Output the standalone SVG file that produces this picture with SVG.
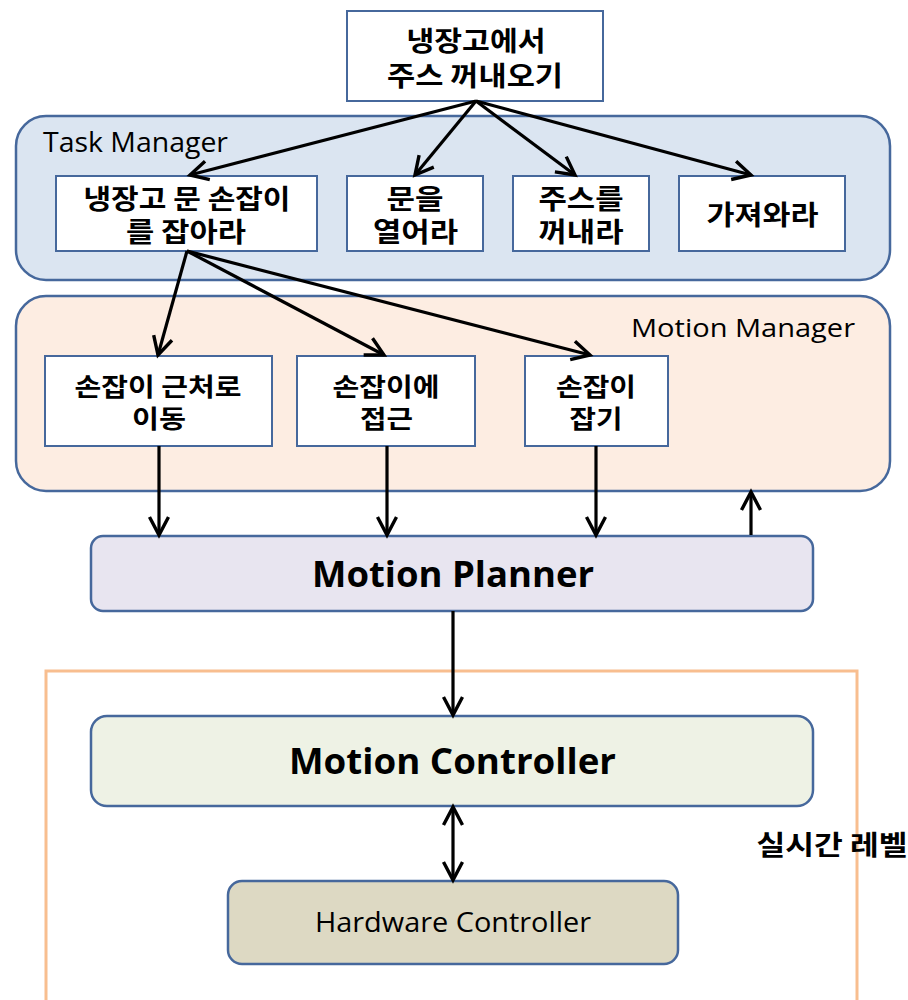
<svg xmlns="http://www.w3.org/2000/svg" width="908" height="1000" viewBox="0 0 908 1000">
  <style>
    .box { fill: #ffffff; stroke: #46689c; stroke-width: 2; }
    .panel { stroke: #46689c; stroke-width: 2.5; }
    .ko { font-family: "Noto Sans CJK KR", "Malgun Gothic", sans-serif; font-weight: bold; font-size: 27px; fill: #000; text-anchor: middle; }
    .ko.sm { font-size: 25px; }
    .en { font-family: "Open Sans", "Liberation Sans", sans-serif; fill: #000; }
    .link { stroke: #000; stroke-width: 3.2; fill: none; marker-end: url(#arrow); }
  </style>
  <defs>
    <marker id="arrow" viewBox="-22 -12 26 24" refX="0" refY="0" markerWidth="26" markerHeight="24" markerUnits="userSpaceOnUse" orient="auto-start-reverse">
      <path d="M-18,-9.5 L0,0 L-18,9.5" fill="none" stroke="#000" stroke-width="3.4" stroke-linejoin="miter"/>
    </marker>
  </defs>

  <rect width="908" height="1000" fill="#ffffff"/>

  <!-- layer containers -->
  <g id="task-manager">
    <rect class="panel" x="16" y="116" width="874" height="164" rx="30" fill="#dbe5f1"/>
    <text class="en" x="43" y="151.5" font-size="26.5" textLength="185" lengthAdjust="spacingAndGlyphs">Task Manager</text>
  </g>
  <g id="motion-manager">
    <rect class="panel" x="16" y="296" width="874" height="195" rx="30" fill="#fdede2"/>
    <text class="en" x="631" y="336.5" font-size="26" textLength="224" lengthAdjust="spacingAndGlyphs">Motion Manager</text>
  </g>
  <g id="realtime-level">
    <rect x="46" y="671" width="811" height="340" fill="none" stroke="#f8be8f" stroke-width="3"/>
    <text class="ko" x="832" y="855" font-size="25" textLength="151" lengthAdjust="spacingAndGlyphs">실시간 레벨</text>
  </g>

  <!-- top goal -->
  <g id="goal">
    <rect class="box" x="347" y="11" width="256" height="90"/>
    <text class="ko" x="476" y="51" textLength="139" lengthAdjust="spacingAndGlyphs">냉장고에서</text>
    <text class="ko" x="475" y="86" textLength="176" lengthAdjust="spacingAndGlyphs">주스 꺼내오기</text>
  </g>

  <!-- tasks -->
  <g id="task-grab-handle">
    <rect class="box" x="56" y="176" width="261" height="75"/>
    <text class="ko" x="187" y="208.5" textLength="207" lengthAdjust="spacingAndGlyphs">냉장고 문 손잡이</text>
    <text class="ko" x="186" y="242" textLength="120" lengthAdjust="spacingAndGlyphs">를 잡아라</text>
  </g>
  <g id="task-open-door">
    <rect class="box" x="347" y="176" width="136" height="75"/>
    <text class="ko" x="415" y="208.5" textLength="57" lengthAdjust="spacingAndGlyphs">문을</text>
    <text class="ko" x="415.5" y="242" textLength="85" lengthAdjust="spacingAndGlyphs">열어라</text>
  </g>
  <g id="task-take-juice">
    <rect class="box" x="513" y="176" width="136" height="75"/>
    <text class="ko" x="581" y="208.5" textLength="85" lengthAdjust="spacingAndGlyphs">주스를</text>
    <text class="ko" x="581" y="242" textLength="85" lengthAdjust="spacingAndGlyphs">꺼내라</text>
  </g>
  <g id="task-bring">
    <rect class="box" x="679" y="176" width="166" height="75"/>
    <text class="ko" x="762.5" y="224.5" textLength="112" lengthAdjust="spacingAndGlyphs">가져와라</text>
  </g>

  <!-- motions -->
  <g id="motion-approach-near">
    <rect class="box" x="45" y="356" width="227" height="90"/>
    <text class="ko sm" x="158" y="396" textLength="167" lengthAdjust="spacingAndGlyphs">손잡이 근처로</text>
    <text class="ko sm" x="159" y="428" textLength="54" lengthAdjust="spacingAndGlyphs">이동</text>
  </g>
  <g id="motion-approach">
    <rect class="box" x="297" y="356" width="178" height="90"/>
    <text class="ko sm" x="386" y="396" textLength="107" lengthAdjust="spacingAndGlyphs">손잡이에</text>
    <text class="ko sm" x="386.5" y="428" textLength="53" lengthAdjust="spacingAndGlyphs">접근</text>
  </g>
  <g id="motion-grasp">
    <rect class="box" x="525" y="356" width="143" height="90"/>
    <text class="ko sm" x="596" y="396" textLength="80" lengthAdjust="spacingAndGlyphs">손잡이</text>
    <text class="ko sm" x="596" y="428" textLength="53" lengthAdjust="spacingAndGlyphs">잡기</text>
  </g>

  <!-- planner / controllers -->
  <g id="motion-planner">
    <rect class="panel" x="91" y="536" width="722" height="75" rx="12" fill="#e8e5f0"/>
    <text class="en" x="312" y="586.5" font-size="35" font-weight="bold" textLength="282" lengthAdjust="spacingAndGlyphs">Motion Planner</text>
  </g>
  <g id="motion-controller">
    <rect class="panel" x="91" y="716" width="722" height="90" rx="16" fill="#eef2e5"/>
    <text class="en" x="289" y="774" font-size="36" font-weight="bold" textLength="327" lengthAdjust="spacingAndGlyphs">Motion Controller</text>
  </g>
  <g id="hardware-controller">
    <rect class="panel" x="228" y="881" width="450" height="83" rx="14" fill="#ddd9c3"/>
    <text class="en" x="315" y="932" font-size="27" textLength="276" lengthAdjust="spacingAndGlyphs">Hardware Controller</text>
  </g>

  <!-- connectors -->
  <g id="connectors">
    <line class="link" x1="476" y1="101" x2="190" y2="175"/>
    <line class="link" x1="476" y1="101" x2="415" y2="175"/>
    <line class="link" x1="476" y1="101" x2="575" y2="175"/>
    <line class="link" x1="476" y1="101" x2="751" y2="175"/>
    <line class="link" x1="187" y1="251" x2="158" y2="355"/>
    <line class="link" x1="187" y1="251" x2="384" y2="355"/>
    <line class="link" x1="187" y1="251" x2="590" y2="355"/>
    <line class="link" x1="159" y1="446" x2="159" y2="535"/>
    <line class="link" x1="387" y1="446" x2="387" y2="535"/>
    <line class="link" x1="596" y1="446" x2="596" y2="535"/>
    <line class="link" x1="751" y1="535" x2="751" y2="492"/>
    <line class="link" x1="453" y1="611" x2="453" y2="715"/>
    <line class="link" x1="453" y1="807" x2="453" y2="880" marker-start="url(#arrow)"/>
  </g>
</svg>
